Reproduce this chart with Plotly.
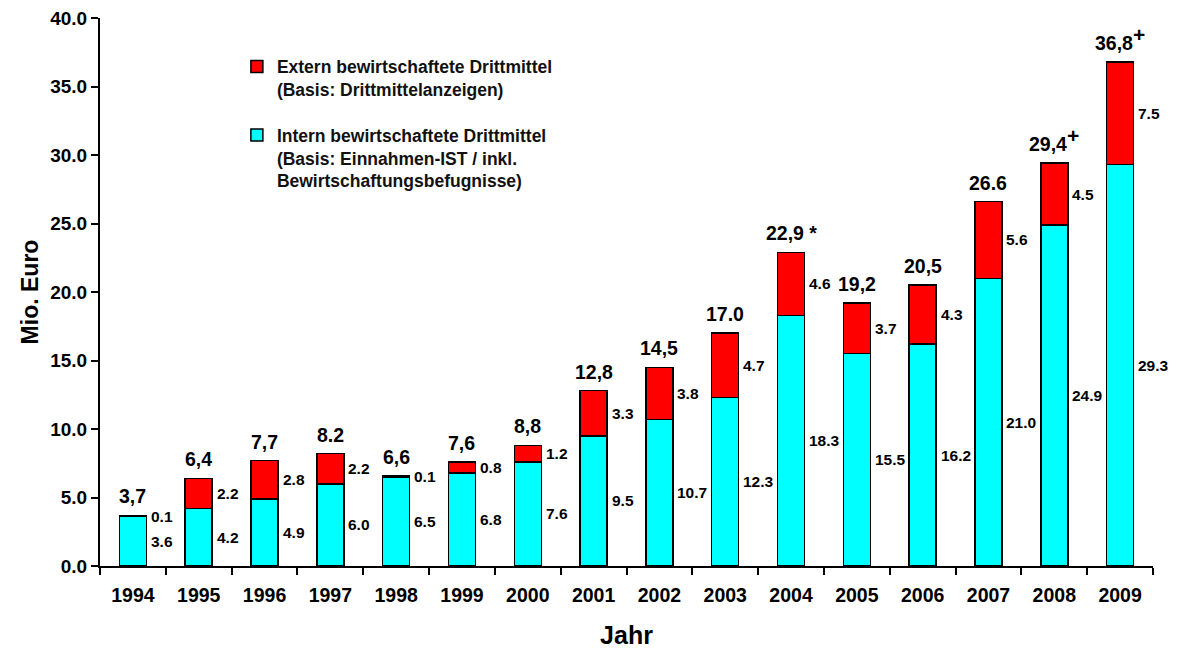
import plotly.graph_objects as go

years = ["1994", "1995", "1996", "1997", "1998", "1999", "2000", "2001",
         "2002", "2003", "2004", "2005", "2006", "2007", "2008", "2009"]
intern = [3.6, 4.2, 4.9, 6.0, 6.5, 6.8, 7.6, 9.5, 10.7, 12.3, 18.3, 15.5, 16.2, 21.0, 24.9, 29.3]
extern = [0.1, 2.2, 2.8, 2.2, 0.1, 0.8, 1.2, 3.3, 3.8, 4.7, 4.6, 3.7, 4.3, 5.6, 4.5, 7.5]
total_labels = ["3,7", "6,4", "7,7", "8.2", "6,6", "7,6", "8,8", "12,8", "14,5", "17.0",
                "22,9 *", "19,2", "20,5", "26.6", "29,4", "36,8"]
total_marks = ["", "", "", "", "", "", "", "", "", "", "", "", "", "", "+", "+"]

FONT = "Liberation Sans, Arial, sans-serif"

fig = go.Figure()
fig.add_trace(go.Bar(
    x=years, y=intern,
    name="Intern bewirtschaftete Drittmittel<br>(Basis: Einnahmen-IST / inkl.<br>Bewirtschaftungsbefugnisse)",
    marker=dict(color="#00FFFF", line=dict(color="black", width=1.5)),
    legendgroup="b", legendrank=2,
))
fig.add_trace(go.Bar(
    x=years, y=extern,
    name="Extern bewirtschaftete Drittmittel<br>(Basis: Drittmittelanzeigen)",
    marker=dict(color="#FF0000", line=dict(color="black", width=1.5)),
    legendgroup="a", legendrank=1,
))

lab_font = dict(family=FONT, size=15.5, color="black", weight="bold")
tot_font = dict(family=FONT, size=19.5, color="black", weight="bold")
annotations = []
for i, (a, b, t, m) in enumerate(zip(intern, extern, total_labels, total_marks)):
    # x given as category index (numeric-looking category names would be misread)
    annotations.append(dict(x=i, y=a / 2, text=f"{a:.1f}", showarrow=False,
                            xanchor="left", yanchor="middle", xshift=16, font=lab_font))
    annotations.append(dict(x=i, y=a + b / 2, text=f"{b:.1f}", showarrow=False,
                            xanchor="left", yanchor="middle", xshift=16, font=lab_font))
    txt = t if not m else f"{t}<sup><span style='font-size:21px'>{m}</span></sup>"
    annotations.append(dict(x=i, y=a + b, text=txt, showarrow=False,
                            xanchor="center", yanchor="bottom", yshift=6, font=tot_font))

fig.update_layout(
    barmode="stack",
    bargap=0.59,
    width=1181, height=650,
    margin=dict(l=92, r=36, t=10, b=92),
    plot_bgcolor="white", paper_bgcolor="white",
    font=dict(family=FONT, color="black"),
    annotations=annotations,
    legend=dict(
        x=0.130, y=0.944, xanchor="left", yanchor="top",
        traceorder="grouped", tracegroupgap=20, valign="top",
        font=dict(family=FONT, size=17.5, color="#111", weight="bold"),
        bgcolor="rgba(0,0,0,0)", itemwidth=30,
    ),
    xaxis=dict(
        type="category", automargin=False, tickangle=0,
        range=[-0.5, len(years) - 0.5],
        title=dict(text="Jahr", font=dict(family=FONT, size=25, weight="bold"), standoff=21),
        showline=True, linecolor="black", linewidth=2,
        ticks="outside", tickson="boundaries", ticklen=7, tickwidth=2, tickcolor="black",
        ticklabelstandoff=11,
        tickfont=dict(family=FONT, size=19.5, weight="bold"),
        showgrid=False,
    ),
    yaxis=dict(
        automargin=False,
        title=dict(text="Mio. Euro", font=dict(family=FONT, size=23, weight="bold"), standoff=5),
        range=[0, 40], dtick=5, tickformat=".1f", ticklabeloverflow="allow",
        showline=True, linecolor="black", linewidth=2,
        ticks="outside", ticklen=7, tickwidth=2, tickcolor="black",
        tickfont=dict(family=FONT, size=19, weight="bold"),
        showgrid=False, zeroline=False,
    ),
)

fig.write_html("out.html")
